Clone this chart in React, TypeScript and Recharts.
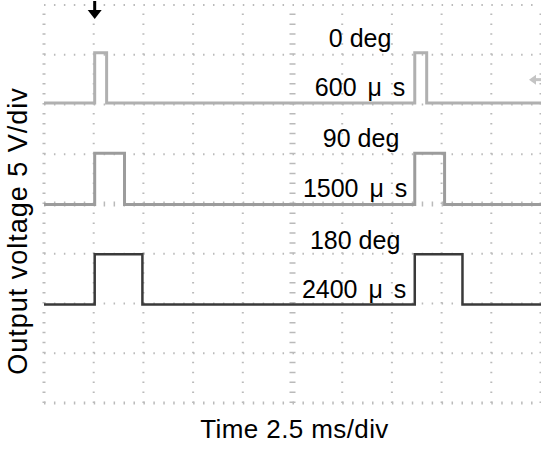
import React from "react";
import {
  LineChart,
  Line,
  XAxis,
  YAxis,
  ReferenceLine,
  ReferenceDot,
} from "recharts";

// time in ms (2.5 ms/div, 10 divisions), voltage in V (5 V/div, 8 divisions)
const timeTicks = [0, 2.5, 5, 7.5, 10, 12.5, 15, 17.5, 20, 22.5, 25];
const voltTicks = [0, 5, 10, 15, 20, 25, 30, 35, 40];

// 0 deg trace, 600 us pulses
const trace0 = [
  { t: 0, v: 30.15 },
  { t: 2.55, v: 35.2 },
  { t: 3.15, v: 30.15 },
  { t: 18.65, v: 35.2 },
  { t: 19.25, v: 30.15 },
  { t: 25, v: 30.15 },
];
// 90 deg trace, 1500 us pulses
const trace90 = [
  { t: 0, v: 19.95 },
  { t: 2.55, v: 25.1 },
  { t: 4.05, v: 19.95 },
  { t: 18.65, v: 25.1 },
  { t: 20.15, v: 19.95 },
  { t: 25, v: 19.95 },
];
// 180 deg trace, 2400 us pulses
const trace180 = [
  { t: 0, v: 9.9 },
  { t: 2.55, v: 14.95 },
  { t: 4.95, v: 9.9 },
  { t: 18.65, v: 14.95 },
  { t: 21.05, v: 9.9 },
  { t: 25, v: 9.9 },
];

const annTexts = ["0 deg", "600 μ s", "90 deg", "1500 μ s", "180 deg", "2400 μ s"];
const annTimes = [15.9, 15.9, 15.95, 15.65, 15.65, 15.6];
const annVolts = [36.68, 31.7, 26.6, 21.6, 16.4, 11.45];

const triggerTime = 2.55;
const triggerLevel = 32.5;

const FONT = "'Liberation Sans', Arial, Helvetica, sans-serif";
const GRID = "#bababa";

const XLabel = (props: any) => {
  const vb = props.viewBox || { x: 44, y: 403, width: 497, height: 47 };
  return (
    <text
      x={vb.x + vb.width / 2 + 2}
      y={vb.y + 35}
      textAnchor="middle"
      fontFamily={FONT}
      fontSize={26}
      letterSpacing={0.4}
      fill="#000"
    >
      Time 2.5 ms/div
    </text>
  );
};

const YLabel = (props: any) => {
  const vb = props.viewBox || { x: 0, y: 5, width: 44, height: 398 };
  const x = vb.x + 27;
  const y = vb.y + vb.height / 2 + 27;
  return (
    <text
      x={x}
      y={y}
      transform={`rotate(-90 ${x} ${y})`}
      textAnchor="middle"
      fontFamily={FONT}
      fontSize={27}
      letterSpacing={1}
      fill="#000"
    >
      Output voltage 5 V/div
    </text>
  );
};

const DownArrow = (props: any) => {
  const { cx, cy } = props;
  return (
    <g fill="#000">
      <rect x={cx - 1.5} y={cy - 4} width={3} height={10} />
      <path d={`M${cx - 7},${cy + 5} L${cx + 7},${cy + 5} L${cx},${cy + 14} Z`} />
    </g>
  );
};

const LeftArrow = (props: any) => {
  const { cx, cy } = props;
  return (
    <g fill="#c4c4c4">
      <rect x={cx - 6} y={cy - 1.5} width={6} height={3} />
      <path d={`M${cx - 12},${cy} L${cx - 5},${cy - 5} L${cx - 5},${cy + 5} Z`} />
    </g>
  );
};

const innerTimes = [2.5, 5, 7.5, 10, 15, 17.5, 20, 22.5];
const innerVolts = [5, 10, 15, 25, 30, 35, 40];

export default function App() {
  return (
    <div style={{ position: "absolute", left: 0, top: 0, background: "#fff" }}>
      <LineChart
        width={541}
        height={450}
        margin={{ top: 5, right: 0, bottom: 0, left: 0 }}
      >
        <XAxis
          dataKey="t"
          type="number"
          domain={[0, 25]}
          ticks={timeTicks}
          interval={0}
          tick={false}
          tickLine={false}
          axisLine={false}
          height={47}
          allowDuplicatedCategory={false}
          label={<XLabel />}
        />
        <YAxis
          type="number"
          domain={[0, 40]}
          ticks={voltTicks}
          interval={0}
          tick={false}
          tickLine={false}
          axisLine={false}
          width={44}
          label={<YLabel />}
        />
        {/* dotted graticule */}
        {innerTimes.map((t) => (
          <ReferenceLine
            key={"vx" + t}
            x={t}
            stroke={GRID}
            strokeWidth={2}
            strokeDasharray="1.5 8.45"
            ifOverflow="visible"
          />
        ))}
        {innerVolts.map((v) => (
          <ReferenceLine
            key={"hy" + v}
            y={v}
            stroke={GRID}
            strokeWidth={2}
            strokeDasharray="1.5 8.44"
            ifOverflow="visible"
          />
        ))}
        {/* edge and centre graticule ticks */}
        <ReferenceLine x={0} stroke={GRID} strokeWidth={3} strokeDasharray="1.5 8.45" />
        <ReferenceLine x={25} stroke={GRID} strokeWidth={3} strokeDasharray="1.5 8.45" />
        <ReferenceLine y={0} stroke={GRID} strokeWidth={3} strokeDasharray="1.5 8.44" />
        <ReferenceLine x={12.5} stroke={GRID} strokeWidth={6} strokeDasharray="1.5 8.45" />
        <ReferenceLine y={20} stroke={GRID} strokeWidth={5} strokeDasharray="1.5 8.44" />

        <Line
          data={trace0}
          dataKey="v"
          type="stepAfter"
          stroke="#b0b0b0"
          strokeWidth={3}
          dot={false}
          activeDot={false}
          isAnimationActive={false}
        />
        <Line
          data={trace90}
          dataKey="v"
          type="stepAfter"
          stroke="#9c9c9c"
          strokeWidth={3}
          dot={false}
          activeDot={false}
          isAnimationActive={false}
        />
        <Line
          data={trace180}
          dataKey="v"
          type="stepAfter"
          stroke="#3a3a3a"
          strokeWidth={2.5}
          dot={false}
          activeDot={false}
          isAnimationActive={false}
        />

        {annTexts.map((txt, i) => (
          <ReferenceDot
            key={txt}
            x={annTimes[i]}
            y={annVolts[i]}
            r={0}
            fill="none"
            stroke="none"
            label={{
              value: txt,
              position: "center",
              fill: "#000",
              fontSize: 25,
              fontFamily: FONT,
              wordSpacing: txt.includes("μ") ? 4 : 0,
            }}
          />
        ))}
        <ReferenceDot x={triggerTime} y={40} shape={<DownArrow />} />
        <ReferenceDot x={25} y={triggerLevel} shape={<LeftArrow />} />
      </LineChart>
    </div>
  );
}
